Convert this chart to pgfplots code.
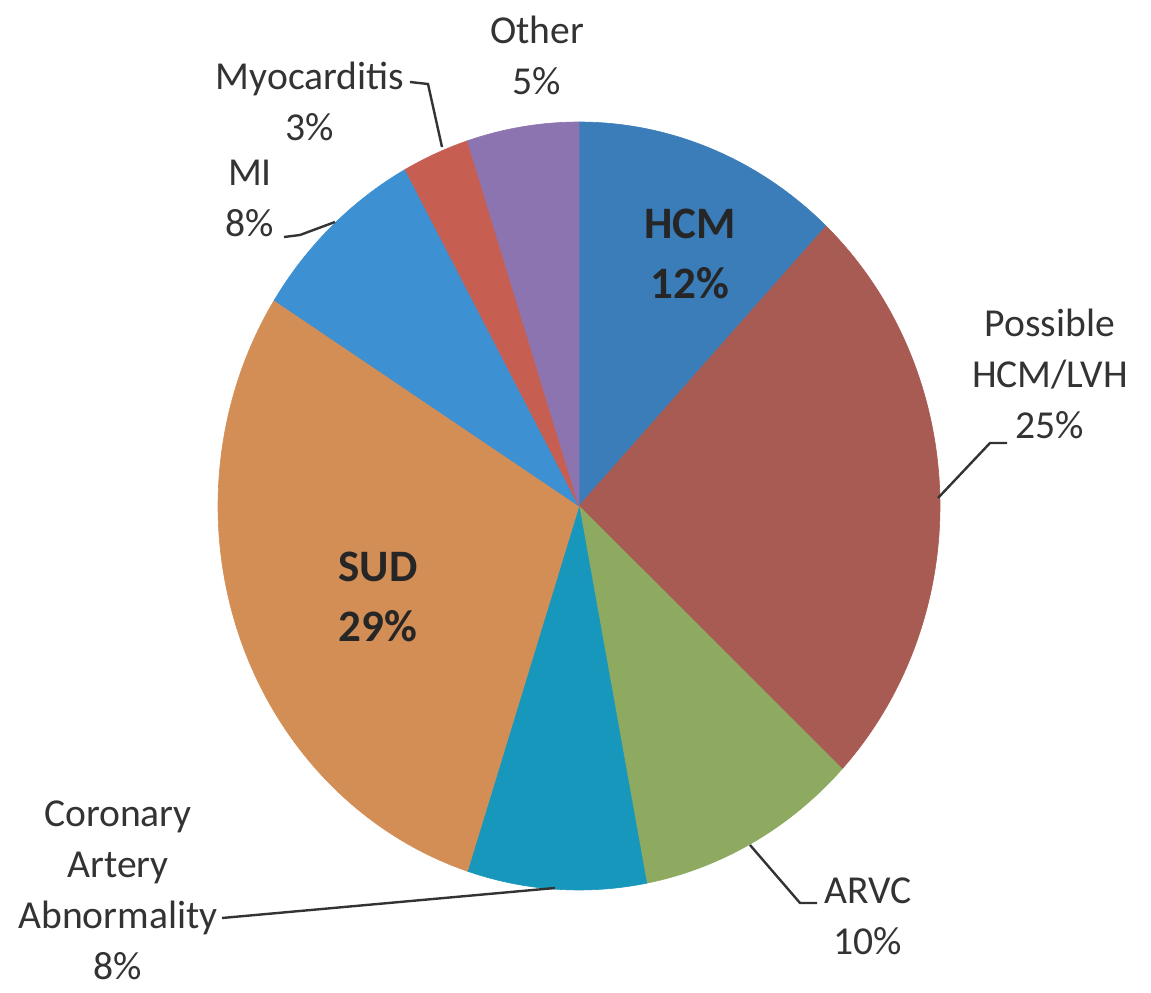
\documentclass[border=0pt]{standalone}
\usepackage{pgfplots}
\pgfplotsset{compat=1.18}
\usepackage{pgfplotstable}
\usepackage{fontspec}
\setmainfont{Carlito}
\definecolor{cHCM}{HTML}{3A7DB9}
\definecolor{cPos}{HTML}{A85B52}
\definecolor{cARVC}{HTML}{8DAA60}
\definecolor{cCAA}{HTML}{1797BC}
\definecolor{cSUD}{HTML}{D38E56}
\definecolor{cMI}{HTML}{3D90D1}
\definecolor{cMyo}{HTML}{C65F52}
\definecolor{cOther}{HTML}{8C74B0}
\definecolor{txt}{HTML}{333333}
\pgfplotstableread{
name pct col
HCM 12 cHCM
PossibleHCM 25 cPos
ARVC 10 cARVC
CAA 8 cCAA
SUD 29 cSUD
MI 8 cMI
Myocarditis 3 cMyo
Other 5 cOther
}\piedata
\begin{document}
\begin{tikzpicture}
\begin{axis}[hide axis, scale only axis, width=575.5pt, height=496pt,
  xmin=0, xmax=1151, ymin=-992, ymax=0, clip=false]
\path (axis cs:0,0) rectangle (axis cs:1151,-992);
\def\cum{0}
\pgfplotsforeachungrouped \i in {0,...,7}{%
  \pgfplotstablegetelem{\i}{pct}\of\piedata\let\slicepct\pgfplotsretval
  \pgfplotstablegetelem{\i}{col}\of\piedata\let\slicecol\pgfplotsretval
  \pgfmathsetmacro\angA{90-3.6*\cum}%
  \pgfmathsetmacro\angB{90-3.6*(\cum+\slicepct)}%
  \pgfmathsetmacro\xa{579+361*cos(\angA)}%
  \pgfmathsetmacro\ya{-506+384*sin(\angA)}%
  \edef\temp{\noexpand\fill[\slicecol, draw=\slicecol, line width=0.3pt] (axis cs:579,-506) -- (axis cs:\xa,\ya) arc[start angle=\angA, end angle=\angB, x radius=361, y radius=384] -- cycle;}%
  \temp
  \pgfmathsetmacro\cum{\cum+\slicepct}%
}
% leader lines
\draw[txt, line width=1.2pt] (axis cs:410,-82) -- (axis cs:428,-84) -- (axis cs:442,-147);
\draw[txt, line width=1.2pt] (axis cs:284,-237) -- (axis cs:300,-235) -- (axis cs:335,-222);
\draw[txt, line width=1.2pt] (axis cs:1007,-443) -- (axis cs:990,-443) -- (axis cs:938,-498);
\draw[txt, line width=1.2pt] (axis cs:817,-903) -- (axis cs:800,-903) -- (axis cs:750,-845);
\draw[txt, line width=1.2pt] (axis cs:222,-918) -- (axis cs:555,-888);
% outer labels
\tikzset{lab/.style={align=center, text=txt, font=\fontsize{19.8}{25.5}\selectfont, inner sep=0pt}}
\node[lab] at (axis cs:537,-55) {Other\\5\%};
\node[lab] at (axis cs:310,-101) {Myocarditis\\3\%};
\node[lab] at (axis cs:250,-198) {MI\\8\%};
\node[lab] at (axis cs:1050,-374) {Possible\\HCM/LVH\\25\%};
\node[lab] at (axis cs:868,-916) {ARVC\\10\%};
\node[lab] at (axis cs:118,-890) {Coronary\\Artery\\Abnormality\\8\%};
% inner labels
\tikzset{blab/.style={align=center, text=black!85, font=\bfseries\fontsize{22.5}{30}\selectfont, inner sep=0pt}}
\node[blab] at (axis cs:690,-254) {HCM\\12\%};
\node[blab] at (axis cs:378,-597) {SUD\\29\%};
\end{axis}
\end{tikzpicture}
\end{document}
